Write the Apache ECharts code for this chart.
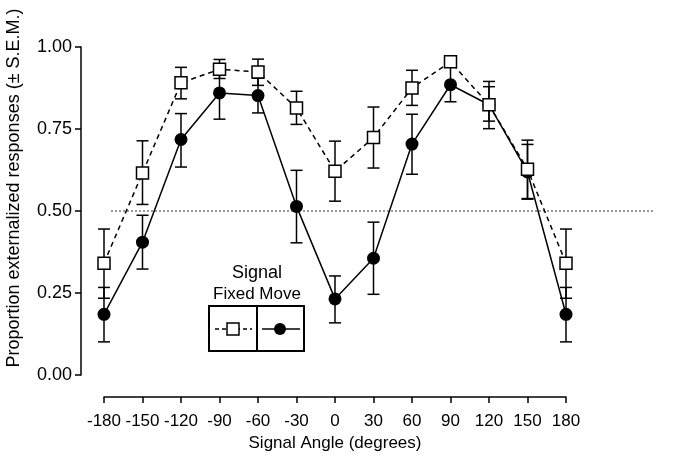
<!DOCTYPE html>
<html>
<head>
<meta charset="utf-8">
<script src="https://cdn.jsdelivr.net/npm/echarts@6/dist/echarts.min.js"></script>
<style>
html,body{margin:0;padding:0;background:#fff;}
#chart{width:673px;height:459px;}
</style>
</head>
<body>
<div id="chart"></div>
<script>
// ---- data ----
var angles = [-180, -150, -120, -90, -60, -30, 0, 30, 60, 90, 120, 150, 180];
var fixedMean = [0.341, 0.616, 0.891, 0.932, 0.924, 0.814, 0.621, 0.724, 0.875, 0.955, 0.824, 0.627, 0.341];
var fixedLow  = [0.234, 0.520, 0.842, 0.904, 0.883, 0.764, 0.530, 0.631, 0.822, 0.945, 0.774, 0.538, 0.234];
var fixedHigh = [0.445, 0.714, 0.938, 0.962, 0.963, 0.865, 0.713, 0.817, 0.929, 0.962, 0.879, 0.716, 0.445];
var moveMean  = [0.185, 0.405, 0.718, 0.860, 0.852, 0.514, 0.232, 0.356, 0.704, 0.885, 0.824, 0.619, 0.185];
var moveLow   = [0.101, 0.323, 0.634, 0.780, 0.799, 0.403, 0.159, 0.246, 0.612, 0.833, 0.751, 0.536, 0.101];
var moveHigh  = [0.267, 0.487, 0.797, 0.930, 0.905, 0.624, 0.302, 0.466, 0.795, 0.940, 0.895, 0.703, 0.267];
var xTicks = [-180, -150, -120, -90, -60, -30, 0, 30, 60, 90, 120, 150, 180];
var yTicks = [0.00, 0.25, 0.50, 0.75, 1.00];
var chanceLevel = 0.5;
var seriesNames = ['Fixed', 'Move'];
var legendTitle = 'Signal';
var xTitle = 'Signal Angle (degrees)';
var yTitle = 'Proportion externalized responses (\u00b1 S.E.M.)';

// ---- build ----
var FONT = '"Liberation Sans", Arial, sans-serif';
function pairs(xs, ys) { return xs.map(function (x, i) { return [x, ys[i]]; }); }
function errData(xs, lo, hi) { return xs.map(function (x, i) { return [x, lo[i], hi[i]]; }); }
function errRender(params, api) {
  var x = api.value(0);
  var lo = api.coord([x, api.value(1)]);
  var hi = api.coord([x, api.value(2)]);
  var w = 6;
  var st = { stroke: '#000', lineWidth: 1.5, fill: null };
  return {
    type: 'group',
    children: [
      { type: 'line', shape: { x1: hi[0], y1: hi[1], x2: lo[0], y2: lo[1] }, style: st },
      { type: 'line', shape: { x1: hi[0] - w, y1: hi[1], x2: hi[0] + w, y2: hi[1] }, style: st },
      { type: 'line', shape: { x1: lo[0] - w, y1: lo[1], x2: lo[0] + w, y2: lo[1] }, style: st }
    ]
  };
}

var chart = echarts.init(document.getElementById('chart'), null, { renderer: 'canvas' });
var option = {
  animation: false,
  backgroundColor: '#fff',
  textStyle: { fontFamily: FONT },
  grid: [
    { left: 104, right: 107, top: 47, bottom: 84, containLabel: false },
    { left: 111, right: 20, top: 47, bottom: 84, containLabel: false }
  ],
  xAxis: [{
    type: 'value', gridIndex: 0, min: xTicks[0], max: xTicks[xTicks.length - 1], interval: 30,
    offset: 22,
    name: xTitle, nameLocation: 'middle', nameGap: 32,
    nameTextStyle: { fontSize: 17, color: '#000', fontFamily: FONT },
    axisLine: { show: true, onZero: false, lineStyle: { color: '#000', width: 1.5 } },
    axisTick: { show: true, length: 6, lineStyle: { color: '#000', width: 1.5 } },
    axisLabel: { fontSize: 17, color: '#000', margin: 16, fontFamily: FONT },
    splitLine: { show: false }
  }, {
    type: 'value', gridIndex: 1, min: 0, max: 1, show: false
  }],
  yAxis: [{
    type: 'value', gridIndex: 0, min: yTicks[0], max: yTicks[yTicks.length - 1], interval: 0.25,
    offset: 23,
    axisLine: { show: true, onZero: false, lineStyle: { color: '#000', width: 1.5 } },
    axisTick: { show: true, length: 6, lineStyle: { color: '#000', width: 1.5 } },
    axisLabel: { fontSize: 18, color: '#000', margin: 9, fontFamily: FONT,
      formatter: function (v) { return v.toFixed(2); } },
    splitLine: { show: false }
  }, {
    type: 'value', gridIndex: 1, min: yTicks[0], max: yTicks[yTicks.length - 1], show: false
  }],
  graphic: [
    { type: 'text', x: 14, y: 188, rotation: Math.PI / 2,
      style: { text: yTitle, font: '18px ' + FONT, fill: '#000', align: 'center', verticalAlign: 'middle' } },
    { type: 'text', x: 257, y: 273,
      style: { text: legendTitle, font: '18px ' + FONT, fill: '#000', align: 'center', verticalAlign: 'middle' } },
    { type: 'text', x: 257, y: 294,
      style: { text: seriesNames.join(' '), font: '17px ' + FONT, fill: '#000', align: 'center', verticalAlign: 'middle' } },
    { type: 'rect', shape: { x: 209, y: 306, width: 95, height: 45 },
      style: { fill: '#fff', stroke: '#000', lineWidth: 2 }, z: 100 },
    { type: 'line', shape: { x1: 257, y1: 306, x2: 257, y2: 351 }, style: { stroke: '#000', lineWidth: 2 }, z: 101 },
    { type: 'line', shape: { x1: 215, y1: 329, x2: 252, y2: 329 }, style: { stroke: '#000', lineWidth: 1.5, lineDash: [4, 3] }, z: 101 },
    { type: 'rect', shape: { x: 227, y: 323, width: 12, height: 12 }, style: { fill: '#fff', stroke: '#000', lineWidth: 1.5 }, z: 102 },
    { type: 'line', shape: { x1: 262, y1: 329, x2: 300, y2: 329 }, style: { stroke: '#000', lineWidth: 1.5 }, z: 101 },
    { type: 'circle', shape: { cx: 280, cy: 329, r: 6 }, style: { fill: '#000' }, z: 102 }
  ],
  series: [
    { name: 'chance', type: 'line', xAxisIndex: 1, yAxisIndex: 1,
      data: [[0, chanceLevel], [1, chanceLevel]], symbol: 'none', silent: true,
      lineStyle: { color: '#999', width: 2, type: [2, 2] }, z: 1 },
    { name: seriesNames[0] + ' err', type: 'custom', renderItem: errRender,
      data: errData(angles, fixedLow, fixedHigh), z: 2 },
    { name: seriesNames[1] + ' err', type: 'custom', renderItem: errRender,
      data: errData(angles, moveLow, moveHigh), z: 2 },
    { name: seriesNames[1], type: 'line', data: pairs(angles, moveMean),
      symbol: 'circle', symbolSize: 13,
      itemStyle: { color: '#000', borderColor: '#000', borderWidth: 0 },
      lineStyle: { color: '#000', width: 1.5 }, z: 3 },
    { name: seriesNames[0], type: 'line', data: pairs(angles, fixedMean),
      symbol: 'rect', symbolSize: 12,
      itemStyle: { color: '#fff', borderColor: '#000', borderWidth: 1.5 },
      lineStyle: { color: '#000', width: 1.5, type: [5, 4] }, z: 4 }
  ]
};
chart.setOption(option);
</script>
</body>
</html>
